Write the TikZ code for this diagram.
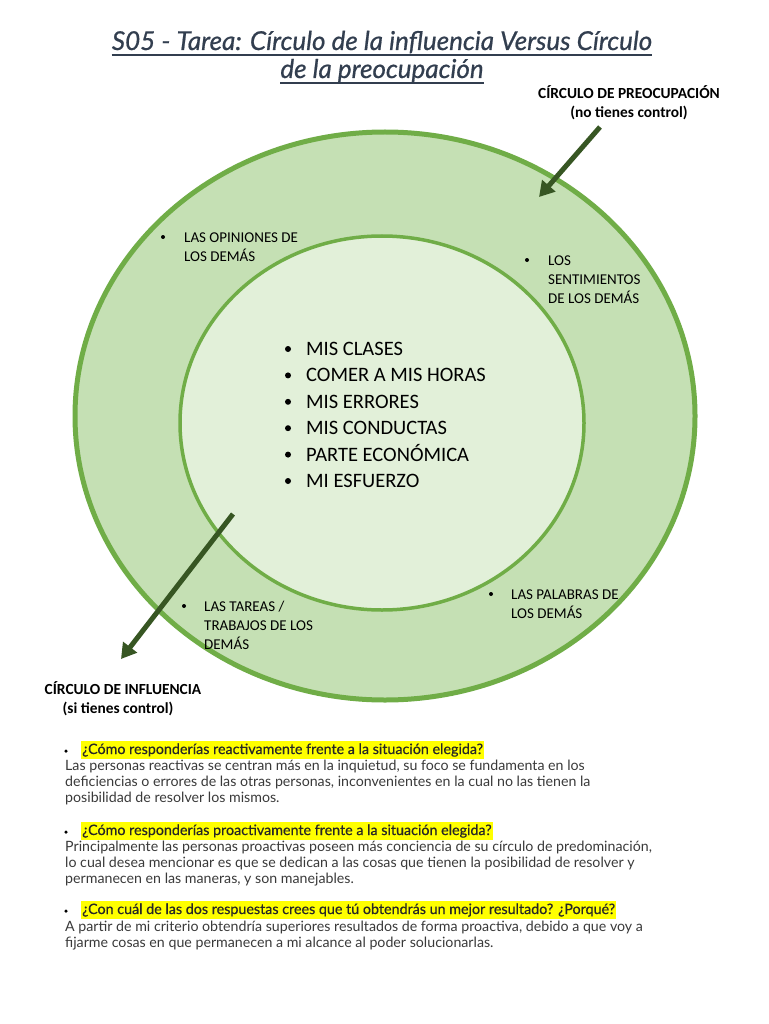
\documentclass[tikz,border=0pt]{standalone}
\usepackage{fontspec}
\setmainfont{Lato}
\newfontfamily\carl{Carlito}
\newfontfamily\latosb[FakeBold=0.4]{Lato}
\newfontfamily\latottl[FakeBold=0.7]{Lato}
\usetikzlibrary{arrows.meta,calc}
\definecolor{outerfill}{HTML}{C5E0B4}
\definecolor{innerfill}{HTML}{E2F0D9}
\definecolor{ringline}{HTML}{70AD47}
\definecolor{arrowgreen}{HTML}{375623}
\definecolor{titlecol}{HTML}{323E4F}
\definecolor{bodycol}{HTML}{3A3A3A}
\definecolor{hl}{HTML}{FFFF00}
\tikzset{
  lbl/.style={font=\carl\fontsize{15}{17}\selectfont, anchor=base west, inner sep=0pt},
  lblb/.style={font=\carl\bfseries\fontsize{15.4}{17}\selectfont, anchor=base, inner sep=0pt},
  big/.style={font=\carl\fontsize{20.5}{22}\selectfont, anchor=base west, inner sep=0pt},
  dot/.style={circle, fill=black, inner sep=0pt, minimum size=#1},
  bigarrow/.style={arrowgreen, line width=5pt, -{Triangle[width=17pt,length=15pt]}},
  body/.style={font=\fontsize{14.2}{16}\selectfont, text=bodycol, anchor=base west, inner sep=0pt},
  quest/.style={font=\latosb\fontsize{14.3}{16}\selectfont, text=black!85, anchor=base west, fill=hl, inner xsep=1pt, inner ysep=2pt},
  ttl/.style={font=\latottl\itshape\fontsize{26}{30}\selectfont, text=titlecol, anchor=base, inner sep=0pt},
  uline/.style={titlecol, line width=1.6pt}
}
\begin{document}
\begin{tikzpicture}[x=1pt,y=-1pt]
\useasboundingbox (0,0) rectangle (768,1024);
\fill[white] (0,0) rectangle (768,1024);
% title
\node[ttl] (t1) at (382,50) {S05 - Tarea: Círculo de la influencia Versus Círculo};
\node[ttl] (t2) at (382,78) {de la preocupación};
\draw[uline] ($(t1.base west)+(0,5)$) -- ($(t1.base east)+(0,5)$);
\draw[uline] ($(t2.base west)+(0,5)$) -- ($(t2.base east)+(0,5)$);
% circles
\draw[ringline, line width=5pt, fill=outerfill] (385,416) ellipse [x radius=310, y radius=284];
\draw[ringline, line width=3.5pt, fill=innerfill] (382,423) ellipse [x radius=202, y radius=187];
% labels outer
\node[lblb] (cp1) at (629,99) {CÍRCULO DE PREOCUPACIÓN};
\node[lblb] (cp2) at (629,118) {(no tienes control)};
\node[lblb] (ci1) at (123,694) {CÍRCULO DE INFLUENCIA};
\node[lblb] (ci2) at (118,713) {(si tienes control)};
% arrows
\coordinate (a1s) at (600,127);
\coordinate (a1e) at (539,197);
\coordinate (a2s) at (233,514);
\coordinate (a2e) at (121,659);
\draw[bigarrow] (a1s) -- (a1e);
\draw[bigarrow] (a2s) -- (a2e);
% ring bullets
\node[dot=4pt] (b1) at (163,237) {};
\node[lbl] (l1a) at (184,242) {LAS OPINIONES DE};
\node[lbl] (l1b) at (184,261) {LOS DEMÁS};
\node[dot=4pt] (b2) at (527,260) {};
\node[lbl] (l2a) at (548,265) {LOS};
\node[lbl] (l2b) at (548,284) {SENTIMIENTOS};
\node[lbl] (l2c) at (548,303) {DE LOS DEMÁS};
\node[dot=4pt] (b3) at (184,606) {};
\node[lbl] (l3a) at (204,611) {LAS TAREAS /};
\node[lbl] (l3b) at (204,630) {TRABAJOS DE LOS};
\node[lbl] (l3c) at (204,649) {DEMÁS};
\node[dot=4pt] (b4) at (491,594) {};
\node[lbl] (l4a) at (511,599) {LAS PALABRAS DE};
\node[lbl] (l4b) at (511,618) {LOS DEMÁS};
% center list
\foreach \t [count=\i] in {MIS CLASES, COMER A MIS HORAS, MIS ERRORES, MIS CONDUCTAS, PARTE ECONÓMICA, MI ESFUERZO}{
  \node[dot=6pt] (cb\i) at (288,{349+26.4*(\i-1)}) {};
  \node[big] (ct\i) at (306,{355.5+26.4*(\i-1)}) {\t};
}
% questions
\node[dot=3.5pt] (q1d) at (66,751) {};
\node[quest] (q1) at (81,754) {¿Cómo responderías reactivamente frente a la situación elegida?};
\node[body] (q1a) at (65,770) {Las personas reactivas se centran más en la inquietud, su foco se fundamenta en los};
\node[body] (q1b) at (65,786) {deficiencias o errores de las otras personas, inconvenientes en la cual no las tienen la};
\node[body] (q1c) at (65,802) {posibilidad de resolver los mismos.};
\node[dot=3.5pt] (q2d) at (66,832) {};
\node[quest] (q2) at (81,835) {¿Cómo responderías proactivamente frente a la situación elegida?};
\node[body] (q2a) at (65,851) {Principalmente las personas proactivas poseen más conciencia de su círculo de predominación,};
\node[body] (q2b) at (65,867) {lo cual desea mencionar es que se dedican a las cosas que tienen la posibilidad de resolver y};
\node[body] (q2c) at (65,883) {permanecen en las maneras, y son manejables.};
\node[dot=3.5pt] (q3d) at (66,911) {};
\node[quest] (q3) at (81,914) {¿Con cuál de las dos respuestas crees que tú obtendrás un mejor resultado? ¿Porqué?};
\node[body] (q3a) at (65,931) {A partir de mi criterio obtendría superiores resultados de forma proactiva, debido a que voy a};
\node[body] (q3b) at (65,947) {fijarme cosas en que permanecen a mi alcance al poder solucionarlas.};
\end{tikzpicture}
\end{document}
